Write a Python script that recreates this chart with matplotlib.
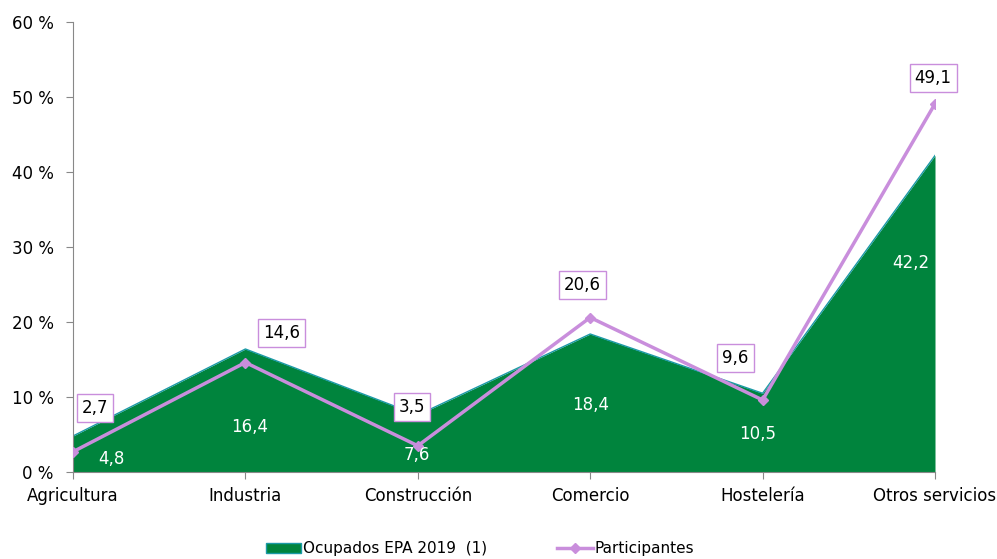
import matplotlib
matplotlib.use("Agg")
import matplotlib.pyplot as plt
from matplotlib.patches import Patch
from matplotlib.lines import Line2D

categories = ["Agricultura", "Industria", "Construcción", "Comercio", "Hostelería", "Otros servicios"]
ocupados = [4.8, 16.4, 7.6, 18.4, 10.5, 42.2]
participantes = [2.7, 14.6, 3.5, 20.6, 9.6, 49.1]
yticks = [0, 10, 20, 30, 40, 50, 60]

GREEN = "#00843D"
EDGE = "#1B9AA6"
PURPLE = "#C98EDC"

plt.rcParams['font.family'] = ['DejaVu Sans']
fig = plt.figure(figsize=(9.97, 5.59), dpi=100)
ax = fig.add_axes([73/997, 87/559, (935-73)/997, (472-22)/559])

x = list(range(len(categories)))
ax.fill_between(x, 0, ocupados, color=GREEN, linewidth=0, zorder=1)
ax.plot(x, ocupados, color=EDGE, linewidth=1.0, zorder=2)
ax.plot(x, participantes, color=PURPLE, linewidth=2.5, marker="D", markersize=5, zorder=3)

ax.set_xlim(0, len(categories) - 1)
ax.set_ylim(0, 60)
ax.set_yticks(yticks)
ax.set_yticklabels([f"{v} %" for v in yticks])
ax.set_xticks(x)
ax.set_xticklabels(categories)
ax.tick_params(axis="both", labelsize=12, color="#888888", length=5, direction="out")
ax.tick_params(axis="x", pad=6)
ax.tick_params(axis="y", pad=9)
for s in ["top", "right"]:
    ax.spines[s].set_visible(False)
for s in ["left", "bottom"]:
    ax.spines[s].set_color("#888888")

# label offsets in pixels (dx, dy) relative to data point
green_off = [(38, -23), (4, -78), (-1, -40), (0, -71), (-5, -41), (-24, -107)]
purple_off = [(22, 44), (36, 30), (-6, 39), (-8, 33), (-27, 42), (-2, 26)]

px = 0.72
for i, v in enumerate(ocupados):
    dx, dy = green_off[i]
    ax.annotate(f"{v:.1f}".replace(".", ","), (i, v), xytext=(dx*px, dy*px),
                textcoords="offset points", ha="center", va="center",
                color="white", fontsize=12, zorder=5)
for i, v in enumerate(participantes):
    dx, dy = purple_off[i]
    ax.annotate(f"{v:.1f}".replace(".", ","), (i, v), xytext=(dx*px, dy*px),
                textcoords="offset points", ha="center", va="center",
                color="black", fontsize=12, zorder=6,
                bbox=dict(boxstyle="square,pad=0.3", fc="white", ec=PURPLE, lw=1))

handles = [Patch(facecolor=GREEN, edgecolor=EDGE, label="Ocupados EPA 2019  (1)"),
           Line2D([0], [0], color=PURPLE, lw=2.5, marker="D", markersize=5, label="Participantes")]
fig.legend(handles=handles, loc="center", bbox_to_anchor=(480/997, 1 - 549/559), ncol=2,
           frameon=False, fontsize=11, handlelength=2.3, handleheight=0.6,
           handletextpad=0.15, columnspacing=4.6)

fig.savefig("out.png", dpi=100)
